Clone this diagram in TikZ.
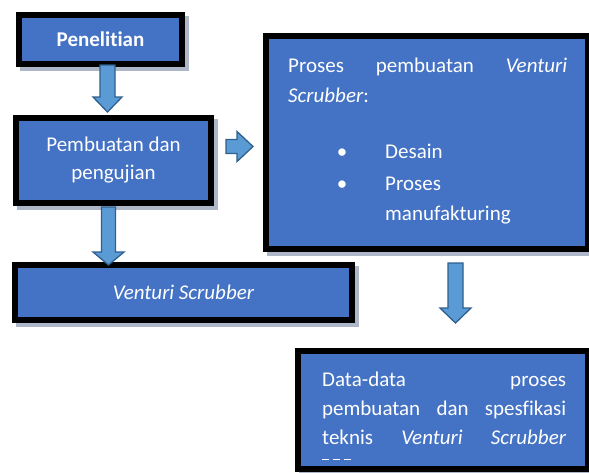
\documentclass[tikz,border=0pt]{standalone}
\usepackage{fontspec}
\setmainfont{Carlito}[Ligatures=NoCommon]
\usetikzlibrary{shadows,calc}

\definecolor{boxblue}{HTML}{4472C4}
\definecolor{arrowblue}{HTML}{5B9BD5}
\definecolor{arrowedge}{HTML}{2F5F8C}
\definecolor{shadowgray}{HTML}{AEB7C7}

% block arrow pointing down: start, tip, half shaft, half head, head length
\newcommand{\blockdown}[5]{%
  \draw[blockarrow] let \p1=(#1), \p2=(#2) in
    (\x2-#3pt,\y1) -- (\x2+#3pt,\y1) -- (\x2+#3pt,\y2+#5pt) --
    (\x2+#4pt,\y2+#5pt) -- (\p2) -- (\x2-#4pt,\y2+#5pt) --
    (\x2-#3pt,\y2+#5pt) -- cycle;}
% block arrow pointing right: start, tip, half shaft, half head, head length
\newcommand{\blockright}[5]{%
  \draw[blockarrow] let \p1=(#1), \p2=(#2) in
    (\x1,\y2+#3pt) -- (\x2-#5pt,\y2+#3pt) -- (\x2-#5pt,\y2+#4pt) --
    (\p2) -- (\x2-#5pt,\y2-#4pt) -- (\x2-#5pt,\y2-#3pt) --
    (\x1,\y2-#3pt) -- cycle;}

\tikzset{
  flowbox/.style={rectangle, draw=black, line width=6pt, fill=boxblue,
    text=white, inner sep=0pt, align=center,
    font=\fontsize{21}{28}\selectfont,
    drop shadow={shadow xshift=4pt, shadow yshift=-4pt, fill=shadowgray,
      draw=shadowgray, line width=6pt, opacity=1}},
  boxtext/.style={text=white, inner sep=0pt, anchor=base west,
    font=\fontsize{21}{30}\selectfont},
  blockarrow/.style={fill=arrowblue, draw=arrowedge, line width=1.3pt,
    line join=miter},
}

\begin{document}
\begin{tikzpicture}[x=1pt,y=-1pt]
\useasboundingbox (0,0) rectangle (589,472);

% boxes
\node[flowbox, minimum width=163pt, minimum height=49pt] (pen) at (100.5,39.5)
  {\bfseries Penelitian};
\node[flowbox, minimum width=195pt, minimum height=85pt] (pem) at (113.5,160.5)
  {Pembuatan dan\\pengujian};
\node[flowbox, minimum width=337pt, minimum height=55pt] (vs) at (183.5,292.5)
  {\itshape Venturi Scrubber};
\node[flowbox, minimum width=322pt, minimum height=213pt] (pro) at (427,142.5) {};
\node[flowbox, minimum width=290pt, minimum height=118pt] (dat) at (443,410) {};

% text of the process box
\node[boxtext] (pro1) at (288,72)
  {\hbox to 279pt{Proses\hfill pembuatan\hfill\textit{Venturi}}};
\node[boxtext] (pro2) at (288,102) {\textit{Scrubber}:};
\node[boxtext, anchor=base] (bul1) at (342,158) {•};
\node[boxtext] (pro3) at (385,158) {Desain};
\node[boxtext, anchor=base] (bul2) at (342,190) {•};
\node[boxtext] (pro4) at (385,190) {Proses};
\node[boxtext] (pro5) at (385,220) {manufakturing};

% text of the data box
\node[boxtext] (dat1) at (322,386)
  {\hbox to 244pt{Data-data\hfill proses}};
\node[boxtext] (dat2) at (322,415)
  {\hbox to 244pt{pembuatan\hfill dan\hfill spesfikasi}};
\node[boxtext] (dat3) at (322,444)
  {\hbox to 244pt{teknis\hfill\textit{Venturi}\hfill\textit{Scrubber}}};
\coordinate (dash1) at (322,459);
\coordinate (dash2) at (352,459);
\draw[white, line width=1pt, dash pattern=on 6.5pt off 4.5pt] (dash1) -- (dash2);

% arrow end points
\coordinate (a1s) at (107.5,65);
\coordinate (a1e) at (107.5,112);
\coordinate (a2s) at (108.5,207);
\coordinate (a2e) at (108.5,265);
\coordinate (a3s) at (226,146.5);
\coordinate (a3e) at (253,146.5);
\coordinate (a4s) at (455.5,263);
\coordinate (a4e) at (455.5,323);

% block arrows
\blockdown{a1s}{a1e}{7.5}{14.5}{15}
\blockdown{a2s}{a2e}{7}{15.5}{13}
\blockright{a3s}{a3e}{7}{15}{16}
\blockdown{a4s}{a4e}{7.5}{15.5}{15}
\end{tikzpicture}
\end{document}
